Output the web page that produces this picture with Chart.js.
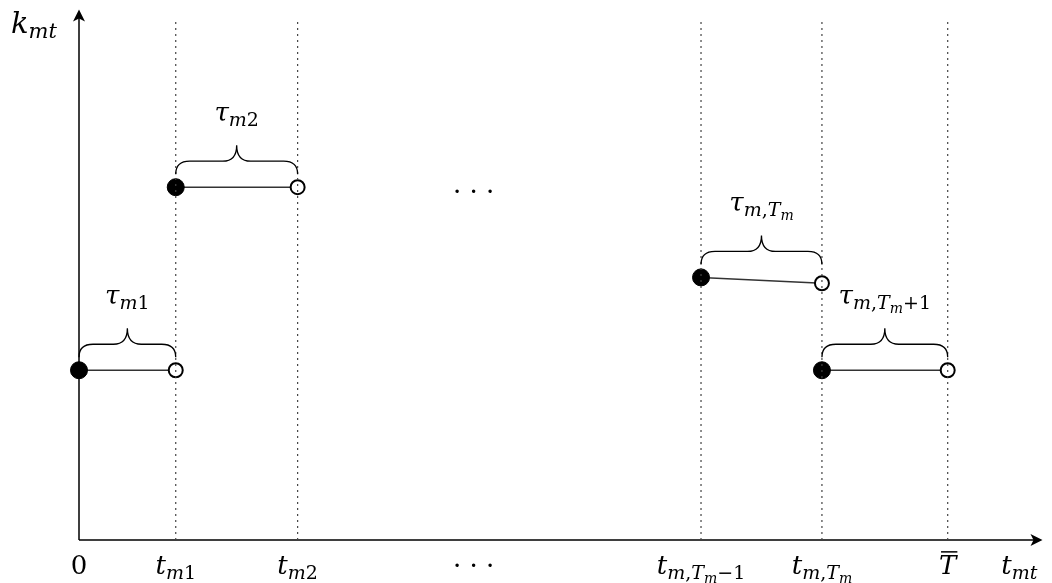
<!DOCTYPE html>
<html>
<head>
<meta charset="utf-8">
<script src="https://cdn.jsdelivr.net/npm/chart.js@4.4.0/dist/chart.umd.min.js"></script>
<style>
  html, body { margin: 0; padding: 0; background: #fff; }
  #wrap { width: 1052px; height: 583px; }
</style>
</head>
<body>
<div id="wrap"><canvas id="grfc-kmt"></canvas></div>
<script>
// step segments: start/end time and level at start/end
const segStart = [0, 1, 6.43, 7.68];
const segEnd = [1, 2.26, 7.68, 8.98];
const levelStart = [3.2, 6.65, 4.95, 3.2];
const levelEnd = [3.2, 6.65, 4.84, 3.2];
const durLabels = ['τ_{m1}', 'τ_{m2}', 'τ_{m,T_m}', 'τ_{m,T_m+1}'];

// dotted verticals
const gridTimes = [1, 2.26, 6.43, 7.68, 8.98];
const gridTop = 9.8;

// x tick labels
const tickValues = [0, 1, 2.26, 4.08, 6.43, 7.68, 8.98, 9.72];
const tickLabels = ['0', 't_{m1}', 't_{m2}', '· · ·', 't_{m,T_m-1}', 't_{m,T_m}', '^T', 't_{mt}'];
const yTitle = 'k_{mt}';
const midDots = { x: 4.08, y: 6.5 };

const xMax = 9.96, yMax = 10;
const FONT = '"DejaVu Serif", serif';
const SIZES = [26, 19, 14];
const DROP = [0, 5, 9];

/* ======== mini math text ======== */
function parseMath(str, level, out) {
  let i = 0, bar = false;
  while (i < str.length) {
    let c = str[i];
    if (c === '_') {
      i++;
      let group;
      if (str[i] === '{') {
        let depth = 1, j = i + 1;
        while (depth) {
          if (str[j] === '{') depth++;
          else if (str[j] === '}') depth--;
          j++;
        }
        group = str.slice(i + 1, j - 1);
        i = j;
      } else {
        group = str[i];
        i++;
      }
      parseMath(group, level + 1, out);
    } else if (c === '^') {
      bar = true; i++;
    } else {
      if (c === '-') c = '−';
      out.push({ ch: c, level: Math.min(level, 2), bar: bar });
      bar = false;
      i++;
    }
  }
  return out;
}

function fontFor(p, scale) {
  const italic = /[a-zA-Zτ]/.test(p.ch);
  return (italic ? 'italic ' : '') + Math.round(SIZES[p.level] * scale) + 'px ' + FONT;
}

function drawMath(ctx, str, x, baseY, align, scale) {
  scale = scale || 1;
  const parts = parseMath(str, 0, []);
  let w = 0;
  parts.forEach(p => {
    ctx.font = fontFor(p, scale);
    p.w = ctx.measureText(p.ch).width;
    w += p.w;
  });
  let cx = align === 'left' ? x : x - w / 2;
  ctx.textBaseline = 'alphabetic';
  ctx.textAlign = 'left';
  ctx.fillStyle = '#000';
  parts.forEach(p => {
    ctx.font = fontFor(p, scale);
    const y = baseY + DROP[p.level] * scale;
    ctx.fillText(p.ch, cx, y);
    if (p.bar) {
      ctx.fillRect(cx + 2, y - SIZES[p.level] * scale * 0.88, p.w - 1, 1.5);
    }
    cx += p.w;
  });
}

function drawBrace(ctx, x1, x2, y) {
  const yb = y - 13, ym = y - 26, yt = y - 42, r = 14;
  const xc = (x1 + x2) / 2;
  ctx.beginPath();
  ctx.moveTo(x1, yb);
  ctx.quadraticCurveTo(x1, ym, x1 + r, ym);
  ctx.lineTo(xc - r, ym);
  ctx.quadraticCurveTo(xc, ym, xc, yt);
  ctx.quadraticCurveTo(xc, ym, xc + r, ym);
  ctx.lineTo(x2 - r, ym);
  ctx.quadraticCurveTo(x2, ym, x2, yb);
  ctx.stroke();
}

function arrowHead(ctx, x, y, dir) {
  ctx.save();
  ctx.translate(x, y);
  if (dir === 'up') ctx.rotate(-Math.PI / 2);
  ctx.beginPath();
  ctx.moveTo(0, 0);
  ctx.lineTo(-12, -6);
  ctx.lineTo(-9, 0);
  ctx.lineTo(-12, 6);
  ctx.closePath();
  ctx.fill();
  ctx.restore();
}

const diagramPlugin = {
  id: 'diagram',
  beforeDatasetsDraw(chart) {
    const ctx = chart.ctx, a = chart.chartArea;
    ctx.save();
    ctx.strokeStyle = '#000';
    ctx.fillStyle = '#000';
    ctx.lineWidth = 1.5;
    ctx.beginPath();
    ctx.moveTo(a.left, a.bottom);
    ctx.lineTo(a.right - 6, a.bottom);
    ctx.moveTo(a.left, a.bottom);
    ctx.lineTo(a.left, a.top + 6);
    ctx.stroke();
    arrowHead(ctx, a.right, a.bottom, 'right');
    arrowHead(ctx, a.left, a.top, 'up');
    ctx.restore();
  },
  afterDatasetsDraw(chart) {
    const ctx = chart.ctx, a = chart.chartArea;
    const xs = chart.scales.x, ys = chart.scales.y;
    ctx.save();
    ctx.strokeStyle = '#000';
    ctx.lineWidth = 1.3;
    segStart.forEach((s, i) => {
      const x1 = xs.getPixelForValue(s), x2 = xs.getPixelForValue(segEnd[i]);
      const y = ys.getPixelForValue(levelStart[i]);
      drawBrace(ctx, x1, x2, y);
      drawMath(ctx, durLabels[i], (x1 + x2) / 2, y - 66, 'center');
    });
    tickValues.forEach((v, i) => {
      drawMath(ctx, tickLabels[i], xs.getPixelForValue(v), a.bottom + 34, 'center');
    });
    drawMath(ctx, yTitle, a.left - 68, a.top + 23, 'left', 1.12);
    drawMath(ctx, '· · ·', xs.getPixelForValue(midDots.x), ys.getPixelForValue(midDots.y) + 5, 'center');
    ctx.restore();
  }
};

const datasets = [];
gridTimes.forEach(t => {
  datasets.push({
    data: [{ x: t, y: 0 }, { x: t, y: gridTop }],
    showLine: true,
    borderColor: '#444',
    borderWidth: 1.2,
    borderDash: [2, 4],
    pointRadius: 0,
    clip: false
  });
});
segStart.forEach((s, i) => {
  datasets.push({
    data: [{ x: s, y: levelStart[i] }, { x: segEnd[i], y: levelEnd[i] }],
    showLine: true,
    borderColor: '#333',
    borderWidth: 1.5,
    pointRadius: [8.5, 7],
    pointBackgroundColor: ['#000', '#fff'],
    pointBorderColor: '#000',
    pointBorderWidth: [1, 2],
    clip: false
  });
});

new Chart(document.getElementById('grfc-kmt'), {
  type: 'scatter',
  data: { datasets: datasets },
  options: {
    responsive: true,
    maintainAspectRatio: false,
    animation: false,
    layout: { padding: { left: 79, right: 7, top: 5, bottom: 43 } },
    plugins: { legend: { display: false }, tooltip: { enabled: false } },
    scales: {
      x: { type: 'linear', min: 0, max: xMax, display: false },
      y: { type: 'linear', min: 0, max: yMax, display: false }
    }
  },
  plugins: [diagramPlugin]
});
</script>
</body>
</html>
